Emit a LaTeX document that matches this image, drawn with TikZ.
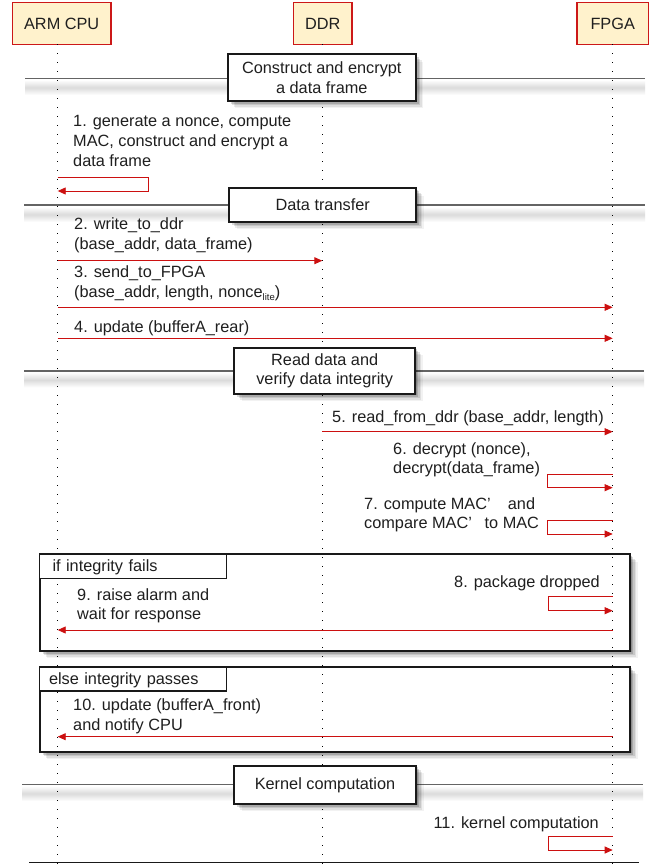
\documentclass[tikz,border=0pt]{standalone}
\usepackage{fontspec}
\setmainfont{Liberation Sans}
\usetikzlibrary{arrows.meta,shadows}

\definecolor{headfill}{RGB}{255,242,204}
\definecolor{headline}{RGB}{204,24,24}
\definecolor{msgred}{RGB}{204,16,16}
\definecolor{divgray}{RGB}{100,100,100}

\newcommand\txtsize{\fontsize{16.3pt}{19.7pt}\selectfont}
% full-width closing quote and comma
\newcommand\fwq{\makebox[1em][l]{’}}
\newcommand\fwc{\makebox[1em][l]{,}}
\newcommand\lite{\raisebox{-3pt}{\fontsize{9.5pt}{10pt}\selectfont lite}}

\tikzset{
  x=1pt, y=-1pt,
  softshadow/.style={
    drop shadow={shadow xshift=1.5pt,shadow yshift=-1.5pt,opacity=0.16,fill=black},
    drop shadow={shadow xshift=3pt,shadow yshift=-3pt,opacity=0.14,fill=black},
    drop shadow={shadow xshift=4.5pt,shadow yshift=-4.5pt,opacity=0.11,fill=black},
    drop shadow={shadow xshift=6pt,shadow yshift=-6pt,opacity=0.08,fill=black},
    drop shadow={shadow xshift=7.5pt,shadow yshift=-7.5pt,opacity=0.05,fill=black}},
  headbox/.style={draw=headline, line width=1.5pt, fill=headfill,
    font=\txtsize, text=black!88, inner sep=0pt},
  secbox/.style={draw=black!90, line width=1.8pt, fill=white, font=\txtsize,
    text=black!88, align=center, inner sep=0pt, softshadow},
  secline/.style={draw=divgray, line width=1.6pt},
  framebox/.style={draw=black!90, line width=1.8pt, fill=white, inner sep=0pt,
    anchor=north west, softshadow},
  tabbox/.style={draw=black!90, line width=1.6pt, fill=white, font=\txtsize,
    text=black!88, align=left, anchor=north west, inner ysep=0pt,
    text height=12pt, text depth=1pt},
  lifeline/.style={draw=black, line width=1.1pt, dash pattern=on 1.1pt off 7.9pt},
  msg/.style={draw=msgred, line width=0.9pt, -{Triangle[length=8pt,width=7pt]}},
  lbl/.style={font=\txtsize, text=black!88, align=left, inner sep=0pt,
    anchor=north west, execute at begin node=\strut},
  lblr/.style={lbl, anchor=north east},
}

\begin{document}
\begin{tikzpicture}
\useasboundingbox (0,0) rectangle (656,865);
\fill[white] (0,0) rectangle (656,865);

% participants
\node[headbox, minimum width=98.7pt, minimum height=41.6pt] (cpu) at (61.7,23.5) {ARM CPU};
\node[headbox, minimum width=58.7pt, minimum height=41.6pt] (ddr) at (322.7,23.5) {DDR};
\node[headbox, minimum width=71.3pt, minimum height=41.6pt] (fpga) at (612.7,23.5) {FPGA};
\coordinate (cpuL) at (57.7,44.3);
\coordinate (ddrL) at (322.3,44.3);
\coordinate (fpgaL) at (612.7,44.3);

% alternative fragments (white body with shadow)
\node[framebox, minimum width=590.6pt, minimum height=96.7pt] (alt1) at (38.7,553.3) {};
\node[framebox, minimum width=590.6pt, minimum height=85pt] (alt2) at (38.7,666) {};

% section dividers: soft band under each rule
\shade[top color=white, bottom color=white, middle color=black!14] (25,80) rectangle (645,95);
\shade[top color=white, bottom color=white, middle color=black!14] (24,207) rectangle (645,222);
\shade[top color=white, bottom color=white, middle color=black!14] (24,372.5) rectangle (644,387.5);
\shade[top color=white, bottom color=white, middle color=black!14] (22,786) rectangle (643,801);
\draw[secline] (25,78.3) -- (645,78.3);
\draw[secline] (24,205) -- (645,205);
\draw[secline] (24,370.7) -- (644,370.7);
\draw[secline] (22,784.3) -- (643,784.3);

% lifelines
\draw[lifeline] (cpuL) -- (cpuL |- 0,865);
\draw[lifeline] (ddrL) -- (ddrL |- 0,865);
\draw[lifeline] (fpgaL) -- (fpgaL |- 0,865);

% section titles
\node[secbox, minimum width=188.3pt, minimum height=46.7pt] (sec1) at (321.8,77.4)
  {Construct and encrypt\\a data frame};
\node[secbox, minimum width=186.7pt, minimum height=33.4pt] (sec2) at (322.7,205)
  {Data transfer};
\node[secbox, minimum width=181.3pt, minimum height=46.3pt] (sec3) at (324.7,370.8)
  {Read data and\\verify data integrity};
\node[secbox, minimum width=182pt, minimum height=38.3pt] (sec4) at (325,784.8)
  {Kernel computation};

% fragment tabs
\node[tabbox, inner xsep=13pt, text width=161pt, minimum height=24.4pt] (tab1) at (38.7,553.3)
  {if integrity fails};
\node[tabbox, inner xsep=9.5pt, text width=168pt, minimum height=24pt] (tab2) at (38.7,666)
  {else integrity passes};

% messages
\draw[msg] (cpuL |- 0,177) -- ++(90.3,0) -- ++(0,14) -- (cpuL |- 0,191);
\draw[msg] (cpuL |- 0,260.7) -- (ddrL |- 0,260.7);
\draw[msg] (cpuL |- 0,307.3) -- (fpgaL |- 0,307.3);
\draw[msg] (cpuL |- 0,338.3) -- (fpgaL |- 0,338.3);
\draw[msg] (ddrL |- 0,431.7) -- (fpgaL |- 0,431.7);
\draw[msg] (fpgaL |- 0,474) -- ++(-65,0) -- ++(0,13.7) -- (fpgaL |- 0,487.7);
\draw[msg] (fpgaL |- 0,520.7) -- ++(-65,0) -- ++(0,13.3) -- (fpgaL |- 0,534);
\draw[msg] (fpgaL |- 0,596) -- ++(-64,0) -- ++(0,14.7) -- (fpgaL |- 0,610.7);
\draw[msg] (fpgaL |- 0,630) -- (cpuL |- 0,630);
\draw[msg] (fpgaL |- 0,736.7) -- (cpuL |- 0,736.7);
\draw[msg] (fpgaL |- 0,836.7) -- ++(-64,0) -- ++(0,13.3) -- (fpgaL |- 0,850);

% message labels
\node[lbl] (t1) at (73,115.5) {1. generate a nonce, compute\\MAC, construct and encrypt a\\data frame};
\node[lbl] (t2) at (74,217.5) {2. write\_to\_ddr\\(base\_addr, data\_frame)};
\node[lbl] (t3) at (74,265.5) {3. send\_to\_FPGA\\(base\_addr, length, nonce\lite)};
\node[lbl] (t4) at (74,318.2) {4. update (bufferA\_rear)};
\node[lbl] (t5) at (332,408.2) {5. read\_from\_ddr (base\_addr, length)};
\node[lbl] (t6) at (393,442.2) {6. decrypt (nonce)\fwc\\decrypt(data\_frame)};
\node[lbl] (t7) at (364,497.2) {7. compute MAC\fwq{} and\\compare MAC\fwq{}to MAC};
\node[lblr] (t8) at (600,573.5) {8. package dropped};
\node[lbl] (t9) at (77,588) {9. raise alarm and\\wait for response};
\node[lbl] (t10) at (73,698.5) {10. update (bufferA\_front)\\and notify CPU};
\node[lblr] (t11) at (599,814) {11. kernel computation};

% closing rule
\draw[black!90, line width=1.5pt] (29,862.3) -- (639,862.3);
\end{tikzpicture}
\end{document}
